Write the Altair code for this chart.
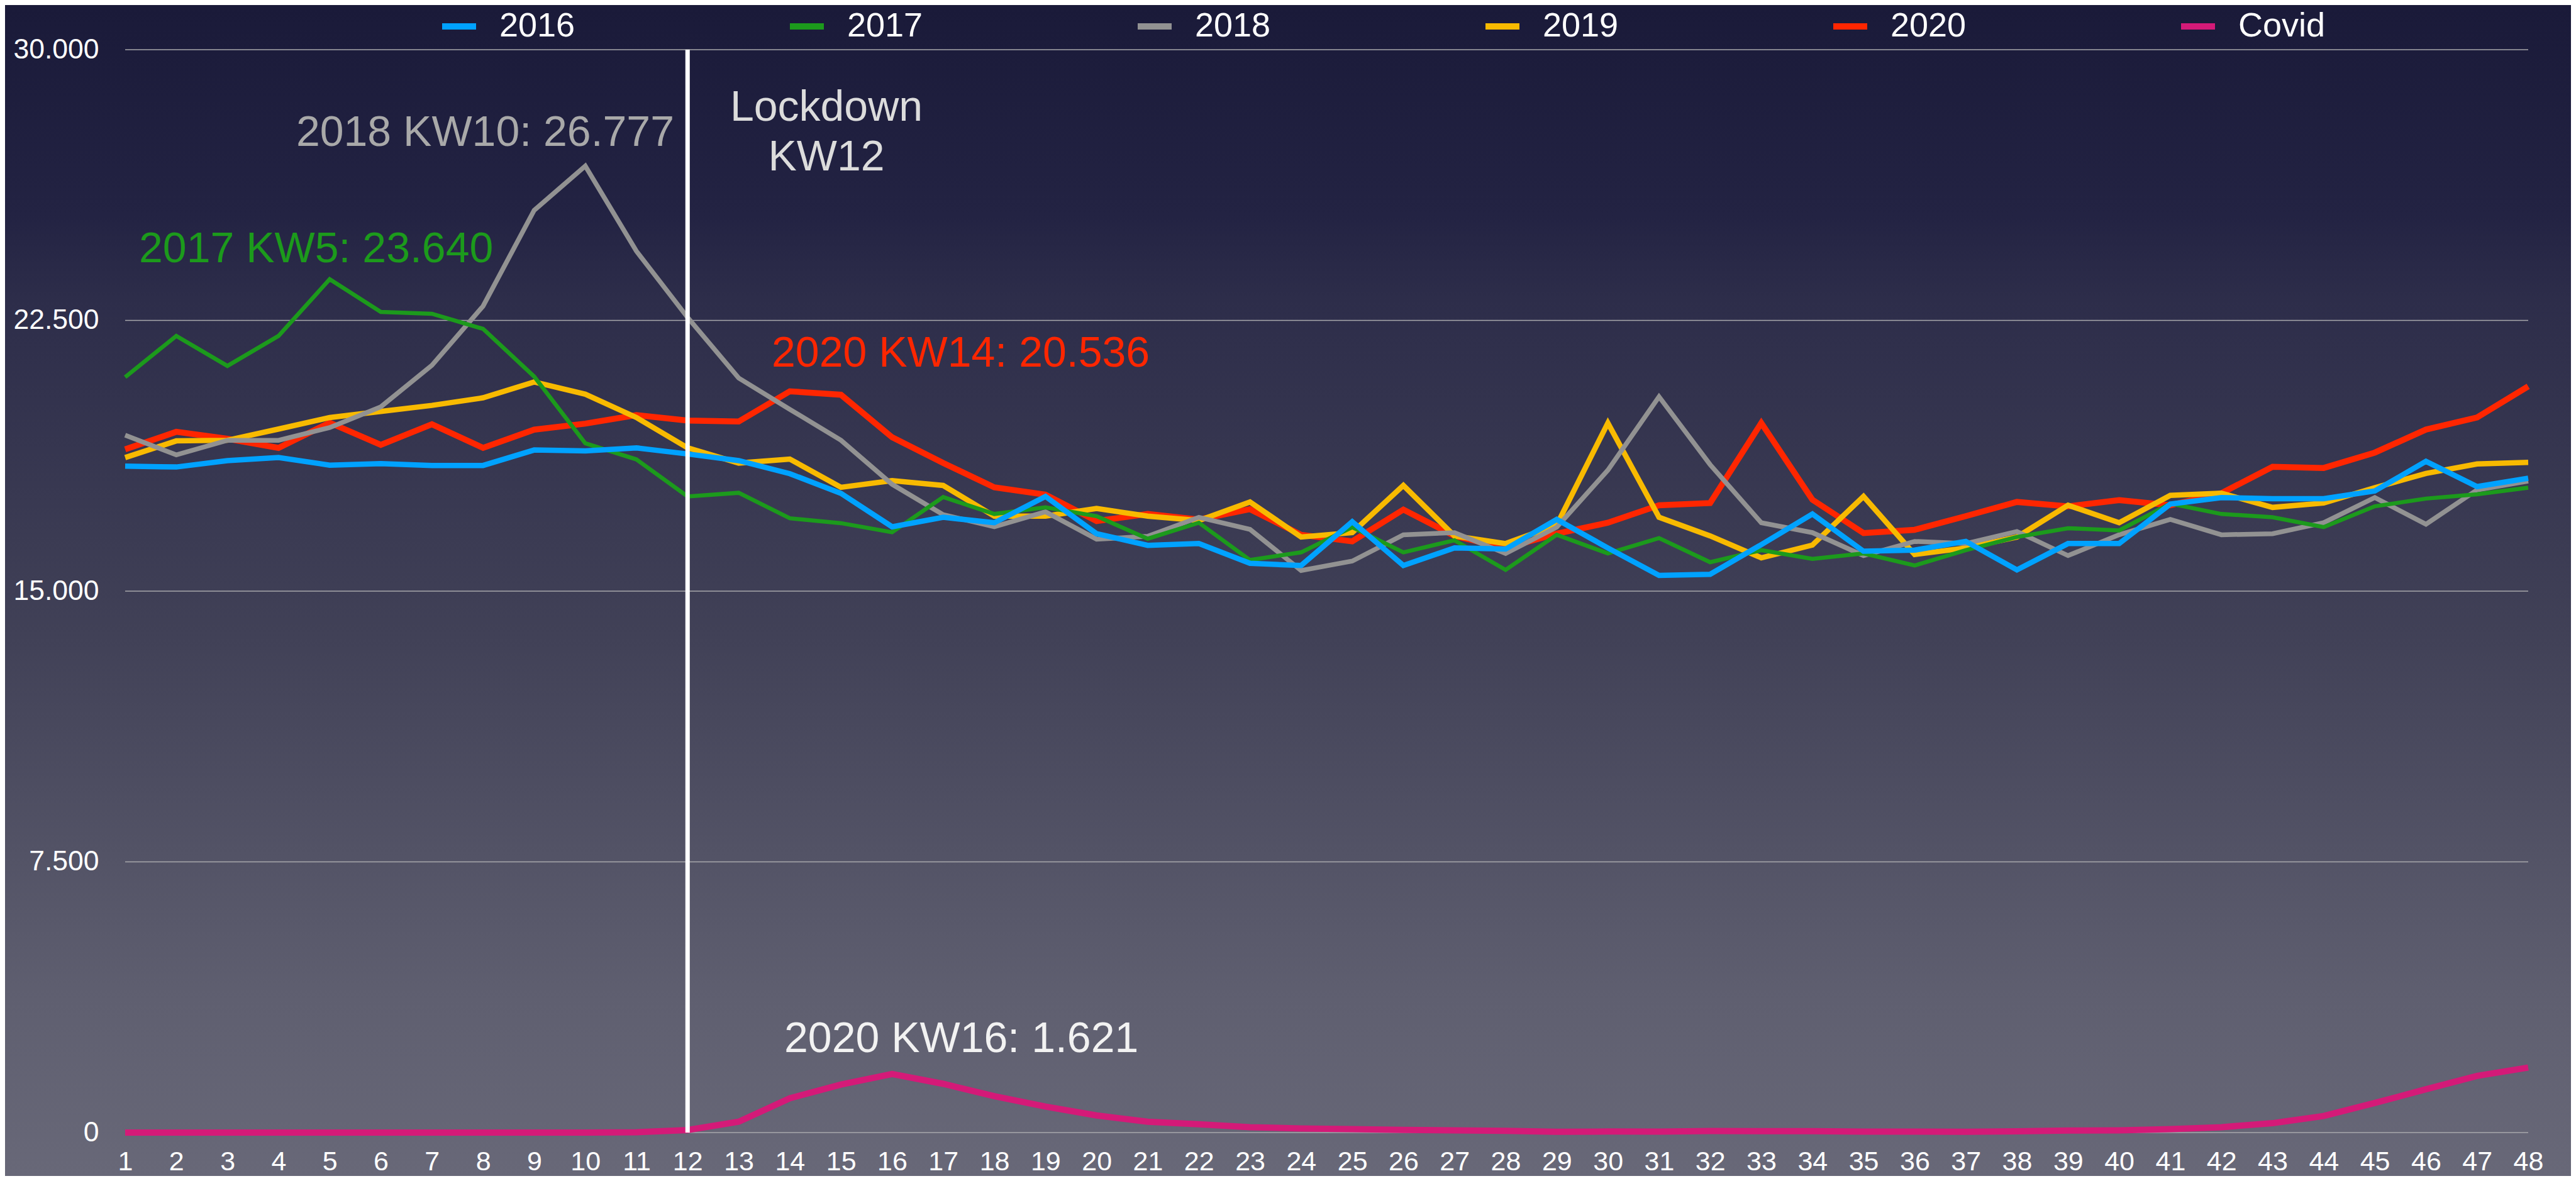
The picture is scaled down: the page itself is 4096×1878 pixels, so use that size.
import altair as alt
import pandas as pd

# ---------------- data ----------------
weeks = list(range(1, 49))

y2016 = [18464, 18439, 18616, 18700, 18490, 18531, 18481, 18481, 18910, 18885,
         18969, 18800, 18616, 18254, 17708, 16783, 17046, 16895, 17623, 16591,
         16269, 16318, 15771, 15710, 16925, 15710, 16196, 16166, 16986, 16196,
         15437, 15467, 16288, 17137, 16105, 16136, 16378, 15589, 16318, 16318,
         17411, 17593, 17563, 17563, 17775, 18595, 17897, 18128]

y2017 = [20928, 22071, 21239, 22071, 23640, 22735, 22685, 22265, 20945, 19095,
         18649, 17623, 17724, 17018, 16883, 16631, 17607, 17137, 17320, 17077,
         16451, 16895, 15862, 16075, 16773, 16075, 16409, 15589, 16561, 16044,
         16470, 15801, 16136, 15893, 16044, 15710, 16136, 16500, 16743, 16682,
         17423, 17137, 17046, 16773, 17350, 17563, 17684, 17866]

y2018 = [19322, 18775, 19179, 19179, 19532, 20104, 21256, 22895, 25552, 26777,
         24417, 22584, 20902, 20036, 19179, 17960, 17119, 16783, 17198, 16439,
         16518, 17046, 16712, 15571, 15832, 16561, 16621, 16044, 16773, 18352,
         20387, 18504, 16895, 16621, 15984, 16378, 16318, 16652, 15984, 16561,
         16986, 16561, 16591, 16895, 17593, 16852, 17806, 18049]

y2019 = [18700, 19162, 19179, 19490, 19809, 19978, 20146, 20356, 20793, 20457,
         19809, 18969, 18548, 18658, 17876, 18061, 17927, 17077, 17077, 17289,
         17077, 16955, 17471, 16500, 16621, 17927, 16530, 16318, 16834, 19658,
         17046, 16530, 15923, 16276, 17623, 16014, 16196, 16500, 17380, 16895,
         17654, 17714, 17320, 17441, 17866, 18261, 18522, 18565]

y2020 = [18927, 19414, 19221, 18969, 19666, 19053, 19624, 18969, 19473, 19641,
         19877, 19725, 19700, 20536, 20440, 19263, 18548, 17876, 17672, 16943,
         17137, 16984, 17271, 16561, 16378, 17259, 16530, 16196, 16591, 16895,
         17380, 17441, 19658, 17532, 16609, 16700, 17077, 17471, 17350, 17520,
         17380, 17714, 18443, 18412, 18838, 19476, 19810, 20672]

covid = [0, 0, 0, 0, 0, 0, 0, 0, 0, 0,
         10, 70, 300, 950, 1330, 1621, 1350, 1010, 720, 475,
         300, 230, 150, 115, 95, 75, 60, 50, 20, 30,
         25, 45, 40, 40, 25, 25, 20, 35, 55, 60,
         95, 150, 260, 460, 820, 1200, 1570, 1800]

series_names = ["2016", "2017", "2018", "2019", "2020", "Covid"]
series_values = [y2016, y2017, y2018, y2019, y2020, covid]
series_colors = ["#00a2ff", "#1c9a1c", "#929292", "#f8ba00", "#ff2600", "#d41a78"]

y_ticks = [0, 7500, 15000, 22500, 30000]
lockdown_week = [12]

annotations = {
    "a2018": "2018 KW10: 26.777",
    "a2017": "2017 KW5: 23.640",
    "lock1": "Lockdown",
    "lock2": "KW12",
    "a2020": "2020 KW14: 20.536",
    "acovid": "2020 KW16: 1.621",
}

rows = []
for name, vals in zip(series_names, series_values):
    for w, v in zip(weeks, vals):
        rows.append({"KW": w, "Wert": v, "Serie": name})
df = pd.DataFrame(rows)

# ---------------- layout ----------------
W, H = 3821, 1722
PL, PT, PR, PB = 191, 71, 68, 69
FONT = "Liberation Sans"
ANN_SIZE = 68

x_scale = alt.Scale(domain=[1, 48], nice=False, zero=False)
y_scale = alt.Scale(domain=[0, 30000], nice=False, zero=True)
color_scale = alt.Scale(domain=series_names, range=series_colors)

ax_x = alt.Axis(values=weeks, format="d", title=None, grid=False, ticks=False,
                tickSize=0, domain=False, labelFontSize=43, labelColor="#ffffff",
                labelFont=FONT, labelPadding=46, labelBaseline="middle",
                labelFlush=False, labelOverlap=False, labelBound=False, zindex=1)
ax_y = alt.Axis(values=y_ticks, title=None, grid=False, ticks=False, tickSize=0,
                domain=False, labelFontSize=44.5, labelColor="#ffffff",
                labelFont=FONT, labelPadding=42, labelBaseline="middle",
                labelExpr="replace(format(datum.value, ','), ',', '.')",
                labelFlush=False, labelOverlap=False, zindex=1)

legend = alt.Legend(title=None, orient="none", direction="horizontal", columns=6,
                    legendX=499, legendY=-69, gridAlign="all", columnPadding=303,
                    labelFontSize=54, labelColor="#ffffff", labelFont=FONT,
                    labelOffset=32, symbolType="stroke", symbolSize=2916,
                    symbolStrokeWidth=10, padding=0, labelLimit=0)

gradient = alt.LinearGradient(
    gradient="linear", x1=0, x2=0, y1=0, y2=1,
    stops=[
        alt.GradientStop(color="#1a1a39", offset=0.0),
        alt.GradientStop(color="#232343", offset=0.18),
        alt.GradientStop(color="#2d2d4a", offset=0.25),
        alt.GradientStop(color="#414157", offset=0.54),
        alt.GradientStop(color="#5f5f70", offset=0.85),
        alt.GradientStop(color="#686878", offset=1.0),
    ],
)

base = alt.Chart(df)

bg = alt.Chart(pd.DataFrame({"one": [1]})).mark_rect(fill=gradient).encode(
    x=alt.value(-PL), x2=alt.value(W + PR), y=alt.value(-PT), y2=alt.value(H + PB)
)

grid = alt.Chart(pd.DataFrame({"v": y_ticks})).mark_rule(
    color="#a9a9ad", strokeWidth=1.7
).encode(
    y=alt.Y("v:Q", scale=y_scale, axis=ax_y),
    x=alt.X(datum=1, type="quantitative", scale=x_scale, axis=ax_x),
    x2=alt.X2(datum=48),
)

widths = {"2016": 8.5, "2017": 6.5, "2018": 7.5, "2019": 8.5, "2020": 9.5, "Covid": 10}


def line_layer(name):
    return base.transform_filter(alt.datum.Serie == name).mark_line(
        strokeWidth=widths[name], strokeJoin="miter", strokeMiterLimit=10
    ).encode(
        x=alt.X("KW:Q", scale=x_scale, axis=ax_x),
        y=alt.Y("Wert:Q", scale=y_scale, axis=ax_y),
        color=alt.Color("Serie:N", scale=color_scale, legend=legend),
    )


lines = [line_layer(n) for n in ["Covid", "2020", "2019", "2018", "2017", "2016"]]

lock = alt.Chart(pd.DataFrame({"KW": lockdown_week})).mark_rule(
    color="#ffffff", strokeWidth=7
).encode(
    x=alt.X("KW:Q", scale=x_scale, axis=ax_x),
    y=alt.Y(datum=0, type="quantitative", scale=y_scale, axis=ax_y),
    y2=alt.Y2(datum=30000),
)


def ann(key, px, py, color, align="left"):
    return alt.Chart(pd.DataFrame({"t": [annotations[key]]})).mark_text(
        align=align, baseline="alphabetic", font=FONT, fontSize=ANN_SIZE, color=color
    ).encode(text="t:N", x=alt.value(px), y=alt.value(py))


texts = [
    ann("a2018", 873, 153, "#a9a9a9", "right"),
    ann("a2017", 22, 338, "#1c9a1c"),
    ann("lock1", 1115, 113, "#dcdcdc", "center"),
    ann("lock2", 1115, 192, "#dcdcdc", "center"),
    ann("a2020", 1028, 504, "#ff2600"),
    ann("acovid", 1048, 1594, "#f2f2f2"),
]

chart = alt.layer(bg, grid, *lines, lock, *texts).properties(
    width=W, height=H,
    autosize=alt.AutoSizeParams(type="none"),
    padding={"left": PL, "top": PT, "right": PR, "bottom": PB},
    background="#3c3c52",
).configure_view(stroke=None).configure(font=FONT)

chart.save("out.html", embed_options={"renderer": "svg", "actions": False})
